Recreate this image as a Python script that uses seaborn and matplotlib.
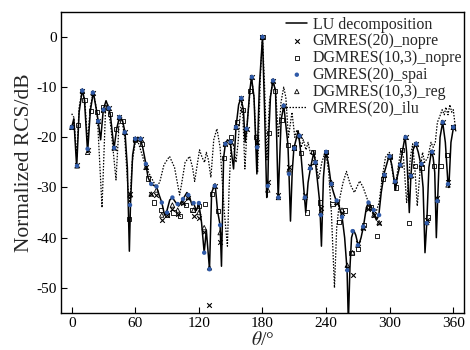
import numpy as np
import pandas as pd
import matplotlib
matplotlib.use("Agg")
import matplotlib.pyplot as plt
import seaborn as sns

# ---------------- data ----------------
lu_theta = [0, 2, 4.7, 7, 10, 12, 15, 17.6, 20.4, 23.6, 25, 27.3, 29.8, 32.4, 35, 36.5,
            39.9, 42.4, 45, 48, 50.3, 52.5, 54.4, 55.5, 57.5, 60, 62.5, 65, 67, 70, 72, 75,
            77.5, 80, 82.5, 85, 87.6, 90, 92.5, 95, 97.5, 100.9, 103, 105, 108.7, 111, 113.5,
            115, 117.5, 120, 122.5, 125, 127, 130, 132, 135.3, 137.6, 140, 141.3, 143.3, 145,
            147, 149.5, 152.7, 155, 157.5, 159.6, 162, 163.6, 165.2, 168, 169.6, 172, 174.7,
            175.3, 177, 180, 182, 184, 185, 186, 187.5, 189.8, 192.3, 194.8, 197.6, 200.1,
            204, 205, 206.4, 208, 209.6, 213.7, 216.2, 220.8, 223, 225.2, 228.4, 230, 234,
            235.6, 237.5, 239.5, 242, 244.7, 247, 249.4, 252, 255.1, 257.5, 259.8, 261, 262.5,
            264, 266, 268, 270.5, 273, 275.2, 278, 280.2, 283, 285.5, 287.5, 289.7, 292, 295,
            299.7, 302, 304.4, 305.5, 307, 310, 314.5, 316, 318.5, 320, 322, 324.5, 327, 329.5,
            331.5, 333.3, 335, 337, 339.3, 341, 342.5, 344, 345.2, 347.5, 350, 352.5, 355,
            355.8, 357.8, 360.2]
lu_rcs = [-18, -16.3, -26, -15, -10.5, -12.5, -23, -14.7, -11, -14.9, -16.8, -20.5, -14.5,
          -12.7, -14.2, -15.5, -22.3, -18.3, -16, -16.7, -19, -26, -42.7, -33, -23.5, -20.3,
          -20, -20.5, -22, -25.3, -28, -29.3, -29.6, -29.8, -31.5, -33, -35.5, -34.5, -32.5,
          -32, -32.8, -33.7, -33, -32.3, -31, -31.8, -33.5, -33.1, -34.6, -33.3, -37, -43,
          -38.5, -46.3, -31, -29.3, -34.7, -37.5, -45.7, -24.1, -21.3, -20.5, -20.9, -26.3,
          -18, -13.5, -12.2, -14.5, -21, -18.3, -10.8, -8, -12, -27.3, -22, -10, 0, -15,
          -32, -29.7, -19.1, -12, -8.7, -10.7, -32.3, -16.5, -13.7, -21.5, -27.3, -36.7,
          -27, -22.2, -18.7, -23.2, -35, -29, -26.2, -23, -25, -33, -41.7, -28, -22.8, -25,
          -29.3, -31, -32.6, -33.5, -35.9, -40, -46.5, -57, -46, -40, -38.5, -39.5, -41.7,
          -40, -37.8, -34, -32.9, -34, -35.5, -36.5, -35.6, -31, -27, -23.5, -25.5, -28.8,
          -30.5, -28, -25.3, -19.8, -23, -35, -27.7, -22.5, -21.3, -23, -25.5, -30, -43, -37,
          -26, -22.9, -24, -27, -40, -32.7, -20, -17, -21, -29.3, -30, -21, -18]

ilu_theta = [0, 2, 4.7, 7, 10, 12.5, 15, 17.5, 20.4, 24, 28.6, 32, 34, 37, 41.8, 45, 47, 50,
             53, 55, 57, 60, 62, 65, 70, 75, 79.5, 83, 87, 92.3, 97, 101.8, 103.5, 107,
             111.2, 114, 116, 118, 120.6, 123, 125.4, 127, 129, 131.3, 134, 137, 140, 144,
             146.9, 148.5, 150.5, 152.5, 155, 157, 159.5, 161, 163.4, 166, 169.6, 172, 175.4,
             178, 180, 182, 184.2, 186.5, 189.8, 192.5, 195, 197.5, 200, 202, 204.5, 207.8,
             210.5, 212.5, 216.5, 218.5, 221, 223, 225.5, 228, 230.5, 233, 236, 239.5, 242.5,
             245, 247.9, 250, 253, 256, 259.2, 263, 266.7, 271.7, 275, 280, 284, 287, 290,
             293, 296, 299.7, 302, 305, 308, 310.5, 313, 316, 319.5, 321.7, 324, 326, 328.5,
             331, 333, 336, 339, 341, 343, 345, 347, 349.5, 351.5, 353, 355, 356.8, 358.5,
             360, 362.5]
ilu_rcs = [-15.3, -16, -24, -14, -10.5, -13, -21, -14, -11, -15, -34, -14, -13.5, -18, -28.5,
           -16, -16, -20, -30, -33, -25, -21, -20.5, -22.5, -26, -28, -29.8, -29, -25.5, -23.8,
           -26, -31.5, -29.5, -25, -23.8, -26, -28.8, -26, -22.5, -24, -25, -23, -24.5, -28,
           -20.5, -18.3, -22, -35, -41.7, -30, -21, -21.5, -25, -21, -14, -13, -26.3, -16, -8,
           -12, -27, -8, 0, -10, -24.5, -13, -8.7, -11, -20, -13, -10, -12, -20, -15, -20,
           -18.5, -22, -20.5, -22.5, -21, -23.5, -22.5, -25, -28.3, -25, -22.7, -27, -35, -50,
           -38, -32, -29, -26.8, -29.5, -31, -28.7, -30, -33, -35, -35, -33, -28, -24, -23,
           -26, -30, -26, -22.5, -24, -33, -24, -21.3, -27, -33.7, -27, -23, -25, -24, -21,
           -22, -21, -17, -16, -14.5, -15.5, -14, -15.5, -13.5, -15, -14.5, -19]

mk_theta = list(range(0, 361, 5))
spai_rcs = [-18, -25.7, -10.7, -22.3, -11.1, -16.8, -14.5, -14.2, -22.1, -16, -19, -33.5,
            -20.3, -20.3, -25.3, -29.3, -29.8, -33, -35, -32, -33.3, -32.3, -31.5, -33.1,
            -33.1, -43, -46.3, -29.7, -37.5, -21.3, -20.9, -18, -12.2, -18.3, -8, -22, 0,
            -29.7, -8.7, -32, -13.7, -27.3, -22.2, -19.7, -32, -26.2, -25, -35.5, -22.9,
            -29.3, -32.6, -35.9, -46.5, -38.7, -41.5, -37.8, -33, -34.5, -35.5, -27.5, -23.8,
            -28.8, -25.5, -20, -27.7, -21.3, -25.3, -37.1, -22.9, -32.7, -17, -29.3, -18]
gm_nopre_rcs = [-18, -25.5, -10.7, -22.5, -11.1, -16.8, -14.5, -14.2, -22.1, -16, -19, -31.3,
                -20.3, -20.3, -26, -31.3, -31.5, -36.5, -35.5, -34.3, -35.3, -33, -32, -35.6,
                -36, -38.9, -53.4, -29.7, -40.8, -21.3, -20.9, -18, -12.2, -18.3, -8, -21,
                0, -29, -8.7, -31.5, -13.7, -26, -22.2, -19.7, -31.5, -25.7, -25, -34,
                -23.5, -29.3, -33, -35, -46, -47.5, -41, -38, -34.3, -35.5, -37, -27.5,
                -23.8, -28.5, -25.5, -20, -27.5, -21.3, -25.3, -36.5, -22.9, -32, -17, -29,
                -18]
dg_reg_rcs = [-18, -25.7, -10.7, -23, -11.1, -16.8, -14.5, -14.2, -22.1, -16, -19, -31.5,
              -20.3, -20.3, -26, -31.3, -30.5, -35.5, -35, -33.5, -34.5, -33, -32, -34.5,
              -35, -38, -46, -29.7, -39, -21.3, -20.9, -18, -12.2, -18.3, -8, -21.5, 0,
              -30.5, -8.7, -32, -13.7, -26.5, -22.2, -19.7, -32, -26, -25, -35, -23,
              -29, -33, -34.5, -45.5, -43, -41.5, -38, -34, -35.5, -37, -27.5, -23.8,
              -28.8, -25.5, -20, -27.7, -21.3, -25.3, -37, -22.9, -32.5, -17, -29.5, -18]

sq_theta = list(range(0, 361, 6))
dg_nopre_rcs = [-18, -17.6, -12.5, -14.7, -14.9, -14, -15.3, -18.3, -16.7, -36.3, -20.5,
                -21.3, -28.2, -33, -34.5, -35.5, -35, -35.7, -33.5, -34.5, -33.7, -33.3,
                -31.3, -34.7, -24.1, -20, -17, -14.5, -10.8, -20, 0, -19.1, -10.7, -16.5,
                -21.5, -22, -23.2, -35, -23, -33, -23, -33.3, -36.9, -34.6, -43.1, -42.3,
                -37.5, -34, -39.6, -28.3, -24, -30, -22.5, -37, -25.8, -26, -36, -25.8,
                -25.7, -23.5, -18]

# ---------------- style ----------------
sns.set_theme(style="ticks")
plt.rcParams["font.family"] = ["Liberation Serif", "DejaVu Serif"]
plt.rcParams["mathtext.fontset"] = "stix"
plt.rcParams["axes.unicode_minus"] = False

fig = plt.figure(figsize=(4.7, 3.5), dpi=100)
ax = fig.add_axes([0.130, 0.106, 0.857, 0.860])

blue = "#2f5aa8"

sns.lineplot(x=lu_theta, y=lu_rcs, ax=ax, color="black", lw=1.1, sort=False,
             estimator=None, label="LU decomposition", zorder=3)
sns.lineplot(x=ilu_theta, y=ilu_rcs, ax=ax, color="black", lw=0.9, sort=False,
             estimator=None, label="GMRES(20)_ilu", zorder=2, linestyle=(0, (1.2, 1.2)))

sns.scatterplot(x=mk_theta, y=gm_nopre_rcs, ax=ax, marker="x", s=11, color="black",
                linewidth=0.8, label="GMRES(20)_nopre", zorder=5)
sns.scatterplot(x=sq_theta, y=dg_nopre_rcs, ax=ax, marker="s", s=9, facecolor="none",
                edgecolor="black", linewidth=0.6, label="DGMRES(10,3)_nopre", zorder=5)
sns.scatterplot(x=mk_theta, y=spai_rcs, ax=ax, marker="o", s=10, color=blue,
                edgecolor="none", label="GMRES(20)_spai", zorder=6)
sns.scatterplot(x=mk_theta, y=dg_reg_rcs, ax=ax, marker="^", s=10, facecolor="none",
                edgecolor="black", linewidth=0.6, label="DGMRES(10,3)_reg", zorder=5)

ax.set_xlim(-10, 370)
ax.set_ylim(-55, 5)
ax.set_xticks(range(0, 361, 60))
ax.set_yticks(range(-50, 1, 10))
ax.tick_params(direction="in", length=4, width=0.8, labelsize=11, top=False, right=False,
               pad=3, colors="black")
for s in ax.spines.values():
    s.set_linewidth(1.0)
    s.set_color("black")
ax.set_xlabel(r"$\theta$/°", fontsize=14, labelpad=1)
ax.set_ylabel("Normalized RCS/dB", fontsize=15.5, labelpad=2)

order = ["LU decomposition", "GMRES(20)_nopre", "DGMRES(10,3)_nopre", "GMRES(20)_spai",
         "DGMRES(10,3)_reg", "GMRES(20)_ilu"]
h, l = ax.get_legend_handles_labels()
d = dict(zip(l, h))
leg = ax.legend([d[k] for k in order], order, loc="upper right", bbox_to_anchor=(1.0, 0.99),
                frameon=False, fontsize=11.5, handlelength=1.3, handletextpad=0.35,
                labelspacing=0.05, borderpad=0.1, borderaxespad=0.0, markerscale=1.0)

fig.savefig("out.png", dpi=100)
